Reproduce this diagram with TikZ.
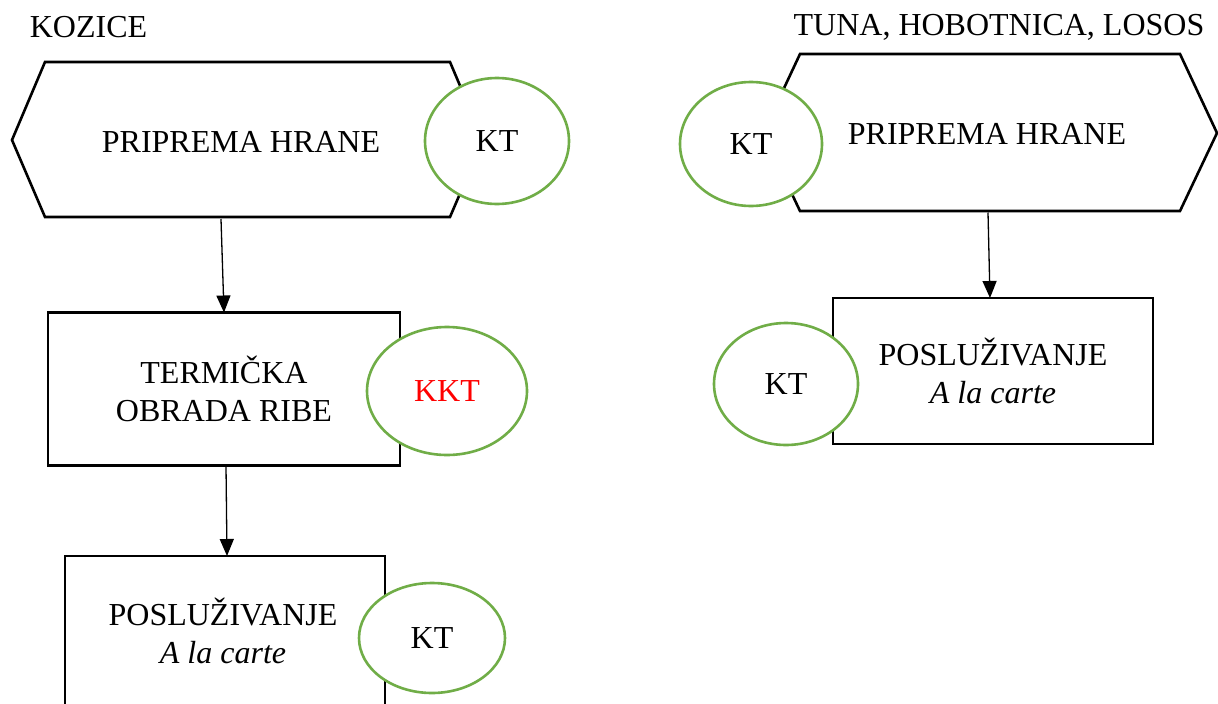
\documentclass[tikz,border=0pt]{standalone}
\usepackage{fontspec}
\setmainfont{Liberation Serif}
\usetikzlibrary{shapes.geometric,arrows.meta,calc}
\definecolor{ktgreen}{HTML}{70AD47}
\definecolor{kktred}{HTML}{FF0000}
\begin{document}
\begin{tikzpicture}[x=1pt,y=-1pt,
  every node/.style={font=\fontsize{32}{38}\selectfont, inner sep=0pt, outer sep=0pt},
  hexline/.style={draw=black, line width=2.6pt, line join=miter},
  stepbox/.style={draw=black, line width=2.6pt, fill=white, rectangle, align=center},
  ktnode/.style={ellipse, draw=ktgreen, line width=2.6pt, fill=white},
  arr/.style={-{Triangle[length=17pt,width=14pt]}, line width=1.3pt},
]
\useasboundingbox (0,0) rectangle (1218,704);
\clip (0,0) rectangle (1218,704);

% titles
\node (titleL) at (88.5,27) {KOZICE};
\node (titleR) at (999,27) {TUNA, HOBOTNICA, LOSOS};

% left column
\draw[hexline] (12,140) -- (45,62) -- (450,62) -- (483,140) -- (450,217) -- (45,217) -- cycle;
\node[minimum width=405, minimum height=155] (hexL) at (241,141.5) {PRIPREMA HRANE};
\node[stepbox, minimum width=352, minimum height=153] (t1) at (224,389) {TERMIČKA\\OBRADA RIBE};
\node[stepbox, minimum width=320, minimum height=180, anchor=north] (p1) at (225,556) {};
\node[align=center] (p1txt) at (223,631) {POSLUŽIVANJE\\\textit{A la carte}};

\node[ktnode, minimum width=144, minimum height=126] (ktL1) at (497,141) {KT};
\node[ktnode, minimum width=160, minimum height=128, text=kktred] (kkt) at (447,391) {KKT};
\node[ktnode, minimum width=146, minimum height=110] (ktL2) at (432,638) {KT};

\draw[arr] ([xshift=-20pt]hexL.south) -- ([xshift=0pt]t1.north);
\draw[arr] ([xshift=2pt]t1.south) -- ([xshift=2pt]p1.north);

% right column
\draw[hexline] (763,133) -- (800,54) -- (1180,54) -- (1217,133) -- (1180,211) -- (800,211) -- cycle;
\node[minimum width=380, minimum height=157] (hexR) at (987,134) {PRIPREMA HRANE};
\node[stepbox, minimum width=320, minimum height=146] (p2) at (993,371) {POSLUŽIVANJE\\\textit{A la carte}};

\node[ktnode, minimum width=142, minimum height=124] (ktR1) at (751,144) {KT};
\node[ktnode, minimum width=144, minimum height=122] (ktR2) at (786,384) {KT};

\draw[arr] ([xshift=1pt]hexR.south) -- ([xshift=-3pt]p2.north);
\end{tikzpicture}
\end{document}
